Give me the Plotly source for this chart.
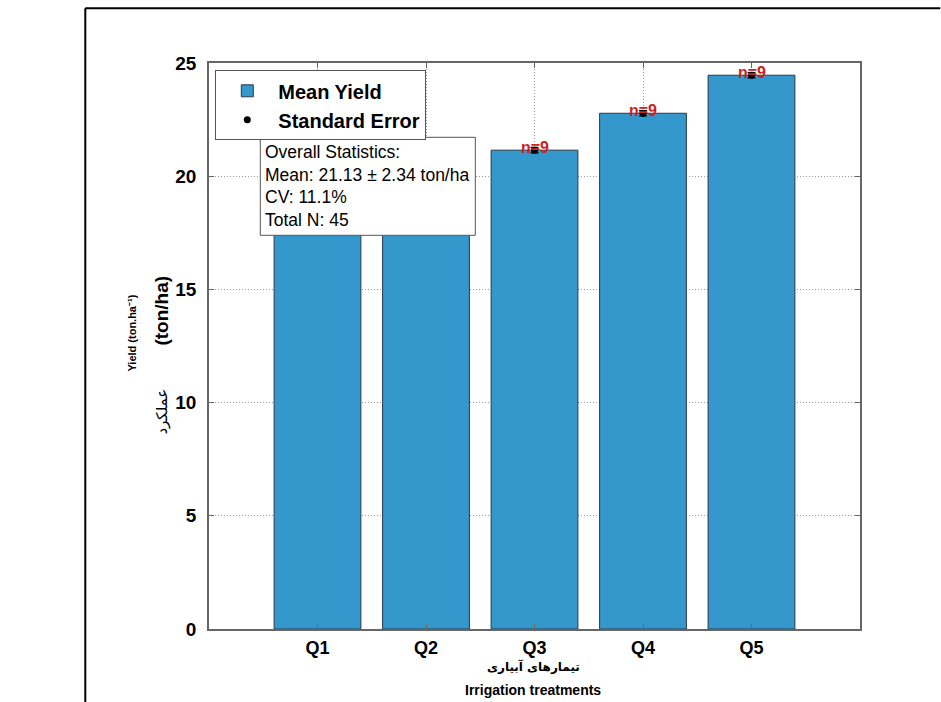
import plotly.graph_objects as go

categories = ["Q1", "Q2", "Q3", "Q4", "Q5"]
mean_yield = [18.40, 18.86, 21.15, 22.78, 24.46]
std_error = [0.12, 0.12, 0.12, 0.12, 0.12]
n_labels = ["n=9", "n=9", "n=9", "n=9", "n=9"]
y_ticks = [0, 5, 10, 15, 20, 25]
stats_lines = ["Overall Statistics:", "Mean: 21.13 ± 2.34 ton/ha", "CV: 11.1%", "Total N: 45"]
# In the reference the statistics box hides the Q1 and Q2 count labels
hidden_labels = {"Q1", "Q2"}

FONT = "Liberation Sans, Arial, sans-serif"
FA_FONT = "DejaVu Sans, Noto Sans, sans-serif"
BAR_COLOR = "#3498CC"

L, T, W, H = 208.7, 62.7, 651.0, 566.0


def px(xp):
    return (xp - L) / W


def py(yp):
    return (T + H - yp) / H


fig = go.Figure()
fig.add_trace(go.Bar(
    x=categories, y=mean_yield, name="Mean Yield", width=0.8,
    marker=dict(color=BAR_COLOR, line=dict(color="#2a3a48", width=1)),
))
fig.add_trace(go.Scatter(
    x=categories, y=mean_yield, mode="markers", name="Standard Error",
    marker=dict(color="black", size=7),
    error_y=dict(type="data", array=std_error, color="black", thickness=1.2, width=4),
))

for c, v, t in zip(categories, mean_yield, n_labels):
    if c in hidden_labels:
        continue
    fig.add_annotation(x=c, y=v, text=t, showarrow=False, yanchor="middle", yshift=3,
                       font=dict(family=FONT, size=16, color="#CC2222", weight="bold"))

# Statistics box: frame + one text line per entry
fig.add_shape(type="rect", xref="paper", yref="paper",
              x0=px(260), x1=px(475), y0=py(137), y1=py(235),
              fillcolor="white", line=dict(color="#555555", width=1), layer="above")
for i, line in enumerate(stats_lines):
    fig.add_annotation(
        xref="paper", yref="paper", x=px(263), y=py(152 + i * 22.6),
        xanchor="left", yanchor="middle", text=line, showarrow=False,
        font=dict(family=FONT, size=17.5, color="black"),
    )

# Axis titles
fig.add_annotation(xref="paper", yref="paper", x=px(132), y=py(333),
                   xanchor="center", yanchor="middle",
                   text="Yield (ton.ha⁻¹)", textangle=-90, showarrow=False,
                   font=dict(family=FONT, size=11, color="black", weight="bold"))
fig.add_annotation(xref="paper", yref="paper", x=px(161), y=py(310),
                   xanchor="center", yanchor="middle",
                   text="(ton/ha)", textangle=-90, showarrow=False,
                   font=dict(family=FONT, size=19, color="black", weight="bold"))
fig.add_annotation(xref="paper", yref="paper", x=px(162), y=py(411),
                   xanchor="center", yanchor="middle",
                   text="عملکرد", textangle=-90, showarrow=False,
                   font=dict(family=FA_FONT, size=15, color="black"))
fig.add_annotation(xref="paper", yref="paper", x=px(533), y=py(666),
                   xanchor="center", yanchor="middle",
                   text="تیمارهای آبیاری", showarrow=False,
                   font=dict(family=FA_FONT, size=12, color="black", weight="bold"))
fig.add_annotation(xref="paper", yref="paper", x=px(533), y=py(690),
                   xanchor="center", yanchor="middle",
                   text="Irrigation treatments", showarrow=False,
                   font=dict(family=FONT, size=14, color="black", weight="bold"))

# Outer frame lines (top and left)
fig.add_shape(type="line", xref="paper", yref="paper",
              x0=px(85), x1=px(940), y0=py(8), y1=py(8),
              line=dict(color="black", width=2))
fig.add_shape(type="line", xref="paper", yref="paper",
              x0=px(85), x1=px(85), y0=py(8), y1=py(712),
              line=dict(color="black", width=2))

GRID = dict(showgrid=True, gridcolor="#999999", griddash="1px,2px", gridwidth=1,
            showline=True, linecolor="#666666", linewidth=1.5, mirror="allticks",
            ticks="inside", ticklen=5, tickcolor="#666666", zeroline=False)

fig.update_xaxes(
    type="category", range=[-1, 5], ticklabelstandoff=2,
    tickfont=dict(family=FONT, size=18, color="black", weight="bold"), **GRID,
)
fig.update_yaxes(
    range=[0, 25], tickvals=y_ticks, ticklabelstandoff=7,
    tickfont=dict(family=FONT, size=19, color="black", weight="bold"), **GRID,
)

fig.update_layout(
    width=941, height=702,
    margin=dict(l=L, r=941 - L - W, t=T, b=702 - T - H),
    paper_bgcolor="white", plot_bgcolor="white",
    bargap=0.2,
    legend=dict(x=px(215), y=py(70), xanchor="left", yanchor="top",
                bgcolor="white", bordercolor="#555555", borderwidth=1,
                font=dict(family=FONT, size=20, color="black", weight="bold"),
                itemwidth=52, tracegroupgap=0),
)

fig.write_html("out.html", config={"displayModeBar": False},
               post_script="document.body.style.margin='0px';")
